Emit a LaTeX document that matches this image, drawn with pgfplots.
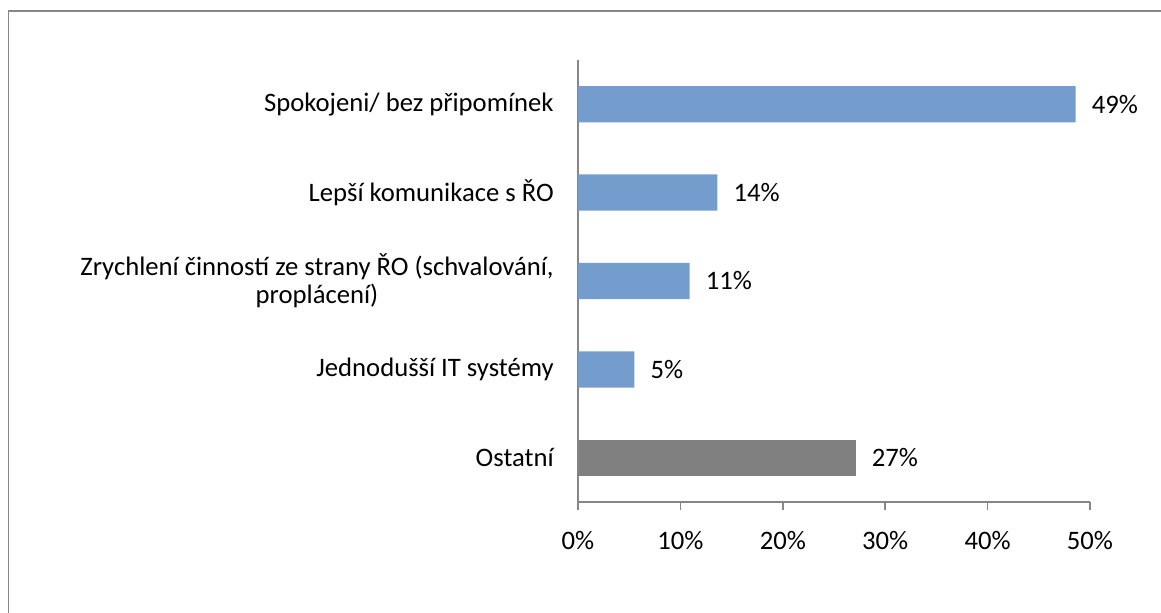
\documentclass[border=0pt]{standalone}
\usepackage{fontspec}
\setmainfont{Carlito}
\usepackage{pgfplots}
\pgfplotsset{compat=1.18}
\definecolor{barblue}{HTML}{749CCC}
\definecolor{bargray}{HTML}{808080}
\definecolor{axgray}{HTML}{868686}
\begin{document}
\begin{tikzpicture}
% page: 1161x613 px, 1px = 0.75pt
\path[use as bounding box] (0,0) rectangle (870.75pt,459.75pt);
\draw[axgray, line width=1.3pt] (6.3pt,0) -- (6.3pt,451.5pt) -- (870.75pt,451.5pt);
\begin{axis}[
    at={(433.5pt,83.25pt)}, anchor=south west,
    scale only axis,
    width=384pt, height=331.5pt,
    xbar, bar width=0.41,
    xmin=0, xmax=50,
    ymin=-0.5, ymax=4.5,
    axis x line*=bottom, axis y line*=left,
    axis line style={axgray, line width=1.2pt, -},
    tick style={axgray, line width=1.2pt},
    tick align=outside,
    xtick={0,10,20,30,40,50},
    xticklabels={0\%,10\%,20\%,30\%,40\%,50\%},
    major tick length=6pt,
    ytick={0,1,2,3,4},
    yticklabels={Ostatní, Jednodušší IT systémy, {Zrychlení činností ze strany ŘO (schvalování,\\proplácení)}, Lepší komunikace s ŘO, Spokojeni/ bez připomínek},
    y tick style={draw=none},
    minor ytick={-0.5,0.5,1.5,2.5,3.5,4.5},
    minor tick length=6pt,
    minor y tick style={axgray, line width=1.2pt},
    every tick label/.append style={font=\fontsize{20}{21}\selectfont, text=black},
    yticklabel style={align=center, inner sep=0pt, anchor=east, xshift=-12pt},
    xticklabel style={inner sep=0pt, anchor=center, yshift=-23pt},
    nodes near coords,
    point meta=explicit symbolic,
    every node near coord/.append style={font=\fontsize{20}{21}\selectfont, text=black, anchor=west, inner sep=0pt, xshift=12pt},
    clip=false,
]
\addplot[fill=barblue, draw=none, bar shift=0pt] coordinates {
    (48.6,4) [49\%]
    (13.6,3) [14\%]
    (10.9,2) [11\%]
    (5.5,1) [5\%]
};
\addplot[fill=bargray, draw=none, bar shift=0pt] coordinates {
    (27.1,0) [27\%]
};
\end{axis}
\end{tikzpicture}
\end{document}
